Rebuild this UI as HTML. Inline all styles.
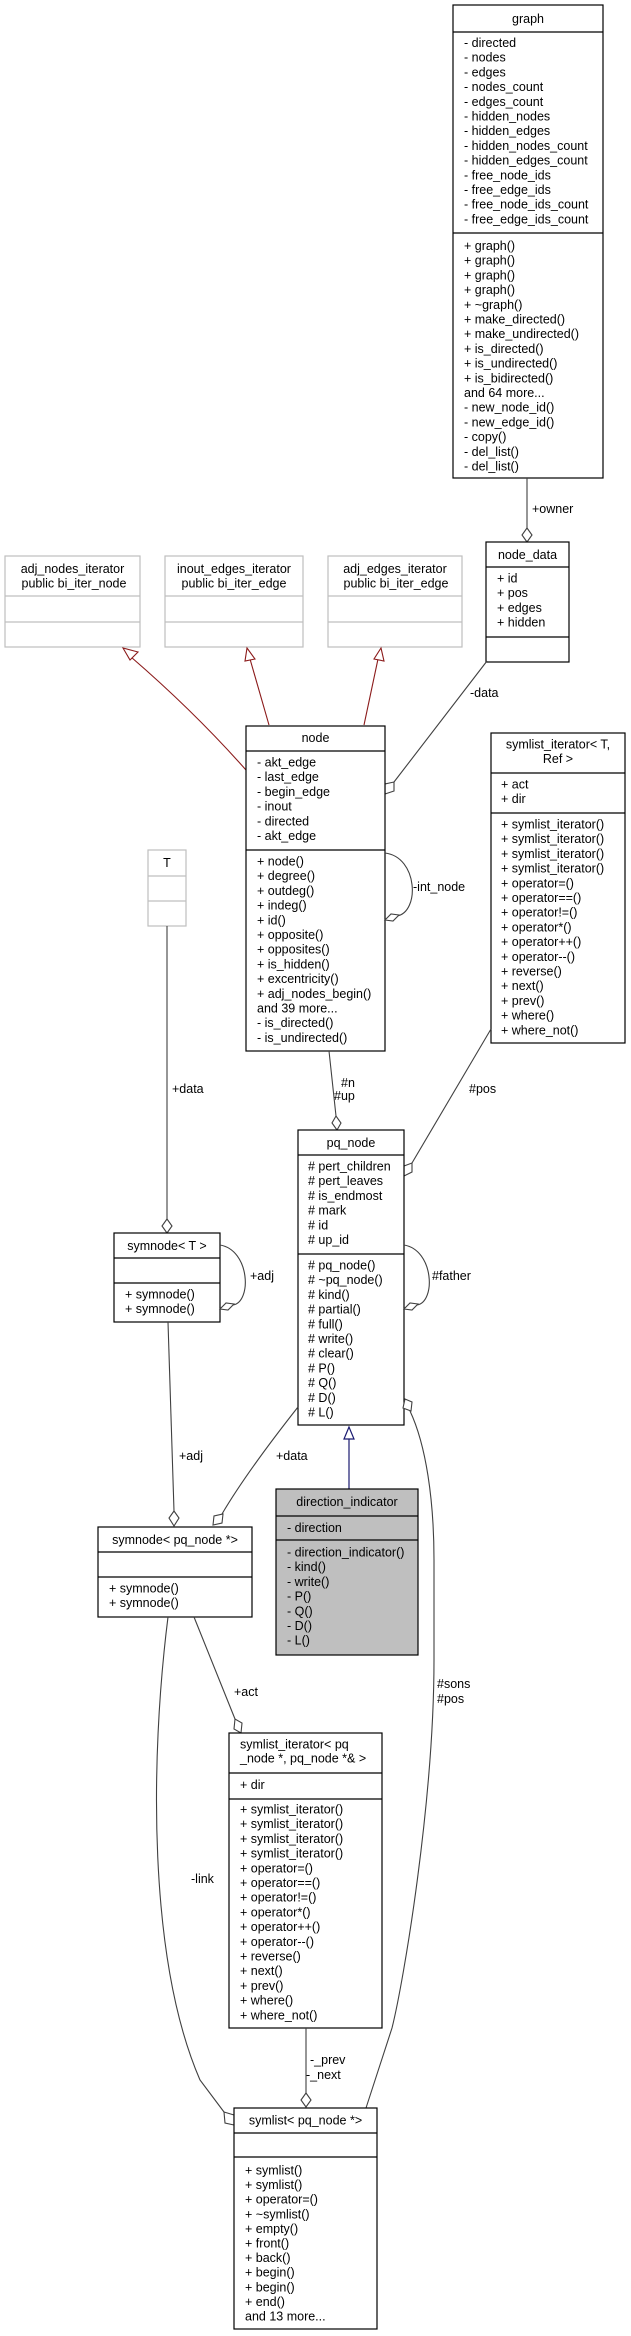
<!DOCTYPE html>
<html><head><meta charset="utf-8"><style>
html,body{margin:0;padding:0;background:#fff}
svg{display:block}
text{font-family:"Liberation Sans",Arial,sans-serif;font-size:12.5px;fill:#000}
.c{text-anchor:middle}
.b{fill:#fff;stroke:#000;stroke-width:1.2}
.g{fill:#fff;stroke:#bfbfbf;stroke-width:1.2}
.d{fill:#bfbfbf;stroke:#000;stroke-width:1.2}
.l{stroke:#000;stroke-width:1.2}
.lg{stroke:#bfbfbf;stroke-width:1.2}
.e{fill:none;stroke:#404040;stroke-width:1.1}
.dm{fill:#fff;stroke:#404040;stroke-width:1.1}
.r{fill:none;stroke:#8b1a1a;stroke-width:1.1}
.rt{fill:#fff;stroke:#8b1a1a;stroke-width:1.1}
</style></head><body>
<svg width="631" height="2336" viewBox="0 0 631 2336" xmlns="http://www.w3.org/2000/svg">

<!-- graph -->
<rect class="b" x="453" y="5" width="150" height="473"/>
<line class="l" x1="453" y1="32" x2="603" y2="32"/>
<line class="l" x1="453" y1="233" x2="603" y2="233"/>
<text class="c" x="528" y="23">graph</text>
<text x="464" y="47">- directed</text>
<text x="464" y="61.7">- nodes</text>
<text x="464" y="76.4">- edges</text>
<text x="464" y="91.1">- nodes_count</text>
<text x="464" y="105.8">- edges_count</text>
<text x="464" y="120.5">- hidden_nodes</text>
<text x="464" y="135.2">- hidden_edges</text>
<text x="464" y="149.9">- hidden_nodes_count</text>
<text x="464" y="164.6">- hidden_edges_count</text>
<text x="464" y="179.3">- free_node_ids</text>
<text x="464" y="194">- free_edge_ids</text>
<text x="464" y="208.7">- free_node_ids_count</text>
<text x="464" y="223.4">- free_edge_ids_count</text>
<text x="464" y="250">+ graph()</text>
<text x="464" y="264.7">+ graph()</text>
<text x="464" y="279.4">+ graph()</text>
<text x="464" y="294.1">+ graph()</text>
<text x="464" y="308.8">+ ~graph()</text>
<text x="464" y="323.5">+ make_directed()</text>
<text x="464" y="338.2">+ make_undirected()</text>
<text x="464" y="352.9">+ is_directed()</text>
<text x="464" y="367.6">+ is_undirected()</text>
<text x="464" y="382.3">+ is_bidirected()</text>
<text x="464" y="397">and 64 more...</text>
<text x="464" y="411.7">- new_node_id()</text>
<text x="464" y="426.4">- new_edge_id()</text>
<text x="464" y="441.1">- copy()</text>
<text x="464" y="455.8">- del_list()</text>
<text x="464" y="470.5">- del_list()</text>

<!-- owner -->
<line class="e" x1="527" y1="478" x2="527" y2="528"/>
<polygon class="dm" points="527,542 522,535 527,528 532,535"/>
<text x="532" y="513">+owner</text>

<!-- node_data -->
<rect class="b" x="486" y="542" width="83" height="120"/>
<line class="l" x1="486" y1="567" x2="569" y2="567"/>
<line class="l" x1="486" y1="637" x2="569" y2="637"/>
<text class="c" x="527.5" y="559">node_data</text>
<text x="497" y="582.5">+ id</text>
<text x="497" y="597.2">+ pos</text>
<text x="497" y="611.9">+ edges</text>
<text x="497" y="626.6">+ hidden</text>

<!-- iterator bases -->
<rect class="g" x="5" y="556" width="135" height="91"/>
<line class="lg" x1="5" y1="596" x2="140" y2="596"/>
<line class="lg" x1="5" y1="622" x2="140" y2="622"/>
<text class="c" x="72.5" y="573">adj_nodes_iterator</text>
<text class="c" x="74" y="587.5">public bi_iter_node</text>

<rect class="g" x="165" y="556" width="138" height="91"/>
<line class="lg" x1="165" y1="596" x2="303" y2="596"/>
<line class="lg" x1="165" y1="622" x2="303" y2="622"/>
<text class="c" x="234" y="573">inout_edges_iterator</text>
<text class="c" x="234" y="587.5">public bi_iter_edge</text>

<rect class="g" x="328" y="556" width="134" height="91"/>
<line class="lg" x1="328" y1="596" x2="462" y2="596"/>
<line class="lg" x1="328" y1="622" x2="462" y2="622"/>
<text class="c" x="395" y="573">adj_edges_iterator</text>
<text class="c" x="396" y="587.5">public bi_iter_edge</text>

<!-- red inheritance -->
<path class="r" d="M131,657 C175,695 215,735 246,770"/>
<polygon class="rt" points="123,648 138,652 130,660"/>
<path class="r" d="M250,659 L269,725"/>
<polygon class="rt" points="247,648 255,659 245,661"/>
<path class="r" d="M378,659 L364,725"/>
<polygon class="rt" points="381,648 384,661 374,659"/>

<!-- node_data -data to node -->
<line class="e" x1="487" y1="661" x2="394" y2="782"/>
<polygon class="dm" points="385,794 385,784 394,782 394,791"/>
<text x="470" y="697">-data</text>

<!-- node -->
<rect class="b" x="246" y="726" width="139" height="325"/>
<line class="l" x1="246" y1="751" x2="385" y2="751"/>
<line class="l" x1="246" y1="850" x2="385" y2="850"/>
<text class="c" x="315.5" y="742">node</text>
<text x="257" y="766.5">- akt_edge</text>
<text x="257" y="781.2">- last_edge</text>
<text x="257" y="795.9">- begin_edge</text>
<text x="257" y="810.6">- inout</text>
<text x="257" y="825.3">- directed</text>
<text x="257" y="840">- akt_edge</text>
<text x="257" y="865.5">+ node()</text>
<text x="257" y="880.2">+ degree()</text>
<text x="257" y="894.9">+ outdeg()</text>
<text x="257" y="909.6">+ indeg()</text>
<text x="257" y="924.3">+ id()</text>
<text x="257" y="939">+ opposite()</text>
<text x="257" y="953.7">+ opposites()</text>
<text x="257" y="968.4">+ is_hidden()</text>
<text x="257" y="983.1">+ excentricity()</text>
<text x="257" y="997.8">+ adj_nodes_begin()</text>
<text x="257" y="1012.5">and 39 more...</text>
<text x="257" y="1027.2">- is_directed()</text>
<text x="257" y="1041.9">- is_undirected()</text>

<!-- int_node loop -->
<path class="e" d="M385,853 C418,857 420,912 397,916"/>
<polygon class="dm" points="385,920 391,914 399,915 393,921"/>
<text x="413" y="891">-int_node</text>

<!-- symlist_iterator<T,Ref> -->
<rect class="b" x="491" y="733" width="134" height="310"/>
<line class="l" x1="491" y1="773" x2="625" y2="773"/>
<line class="l" x1="491" y1="813" x2="625" y2="813"/>
<text class="c" x="558" y="748.5">symlist_iterator&lt; T,</text>
<text class="c" x="558" y="763">Ref &gt;</text>
<text x="501" y="788.5">+ act</text>
<text x="501" y="803">+ dir</text>
<text x="501" y="828.5">+ symlist_iterator()</text>
<text x="501" y="843.2">+ symlist_iterator()</text>
<text x="501" y="857.9">+ symlist_iterator()</text>
<text x="501" y="872.6">+ symlist_iterator()</text>
<text x="501" y="887.3">+ operator=()</text>
<text x="501" y="902">+ operator==()</text>
<text x="501" y="916.7">+ operator!=()</text>
<text x="501" y="931.4">+ operator*()</text>
<text x="501" y="946.1">+ operator++()</text>
<text x="501" y="960.8">+ operator--()</text>
<text x="501" y="975.5">+ reverse()</text>
<text x="501" y="990.2">+ next()</text>
<text x="501" y="1004.9">+ prev()</text>
<text x="501" y="1019.6">+ where()</text>
<text x="501" y="1034.3">+ where_not()</text>

<!-- #pos -->
<line class="e" x1="491" y1="1029" x2="412" y2="1163"/>
<polygon class="dm" points="404,1176 404,1166 412,1163 412,1172"/>
<text x="469" y="1093">#pos</text>

<!-- T -->
<rect class="g" x="148" y="850" width="38" height="76"/>
<line class="lg" x1="148" y1="876" x2="186" y2="876"/>
<line class="lg" x1="148" y1="901" x2="186" y2="901"/>
<text class="c" x="167" y="867">T</text>
<line class="e" x1="167" y1="926" x2="167" y2="1219"/>
<polygon class="dm" points="167,1233 162,1226 167,1219 172,1226"/>
<text x="172" y="1093">+data</text>

<!-- symnode<T> -->
<rect class="b" x="114" y="1233" width="106" height="89"/>
<line class="l" x1="114" y1="1258" x2="220" y2="1258"/>
<line class="l" x1="114" y1="1283" x2="220" y2="1283"/>
<text class="c" x="167" y="1250">symnode&lt; T &gt;</text>
<text x="125" y="1298.5">+ symnode()</text>
<text x="125" y="1313">+ symnode()</text>
<path class="e" d="M220,1245 C250,1250 252,1302 233,1305"/>
<polygon class="dm" points="220,1309 226,1303 234,1304 228,1310"/>
<text x="250" y="1280">+adj</text>

<!-- #n #up -->
<line class="e" x1="329" y1="1051" x2="336" y2="1116"/>
<polygon class="dm" points="337,1130 332,1123 336,1116 341,1123"/>
<text x="341" y="1087">#n</text>
<text x="334" y="1100">#up</text>

<!-- pq_node -->
<rect class="b" x="298" y="1130" width="106" height="295"/>
<line class="l" x1="298" y1="1155" x2="404" y2="1155"/>
<line class="l" x1="298" y1="1254" x2="404" y2="1254"/>
<text class="c" x="351" y="1147">pq_node</text>
<text x="308" y="1170.5"># pert_children</text>
<text x="308" y="1185.2"># pert_leaves</text>
<text x="308" y="1199.9"># is_endmost</text>
<text x="308" y="1214.6"># mark</text>
<text x="308" y="1229.3"># id</text>
<text x="308" y="1244"># up_id</text>
<text x="308" y="1269.5"># pq_node()</text>
<text x="308" y="1284.2"># ~pq_node()</text>
<text x="308" y="1298.9"># kind()</text>
<text x="308" y="1313.6"># partial()</text>
<text x="308" y="1328.3"># full()</text>
<text x="308" y="1343"># write()</text>
<text x="308" y="1357.7"># clear()</text>
<text x="308" y="1372.4"># P()</text>
<text x="308" y="1387.1"># Q()</text>
<text x="308" y="1401.8"># D()</text>
<text x="308" y="1416.5"># L()</text>

<!-- #father -->
<path class="e" d="M404,1245 C434,1250 436,1302 417,1305"/>
<polygon class="dm" points="404,1309 410,1303 418,1304 412,1310"/>
<text x="432" y="1280">#father</text>

<!-- inheritance blue -->
<line x1="349" y1="1439" x2="349" y2="1489" stroke="#191970" stroke-width="1.2"/>
<polygon points="349,1427 344,1439 354,1439" fill="#fff" stroke="#191970" stroke-width="1.2"/>

<!-- direction_indicator -->
<rect class="d" x="276" y="1489" width="142" height="166"/>
<line class="l" x1="276" y1="1516" x2="418" y2="1516"/>
<line class="l" x1="276" y1="1540" x2="418" y2="1540"/>
<text class="c" x="347" y="1506">direction_indicator</text>
<text x="287" y="1532">- direction</text>
<text x="287" y="1556.5">- direction_indicator()</text>
<text x="287" y="1571.2">- kind()</text>
<text x="287" y="1585.9">- write()</text>
<text x="287" y="1600.6">- P()</text>
<text x="287" y="1615.3">- Q()</text>
<text x="287" y="1630">- D()</text>
<text x="287" y="1644.7">- L()</text>

<!-- +data pq_node -> symnode<pq> -->
<path class="e" d="M298,1407 C272,1440 242,1480 222,1514"/>
<polygon class="dm" points="213,1525 214,1516 223,1514 222,1523"/>
<text x="276" y="1460">+data</text>

<!-- +adj symnode<T> -> symnode<pq> -->
<line class="e" x1="168" y1="1322" x2="174" y2="1511"/>
<polygon class="dm" points="174,1526 169,1518 174,1511 179,1518"/>
<text x="179" y="1460">+adj</text>

<!-- #sons #pos -->
<path class="e" d="M410,1411 C426,1445 434,1500 434,1560 L434,1660 C434,1800 404,1980 392,2028 L366,2108"/>
<polygon class="dm" points="405,1399 412,1402 411,1411 403,1408"/>
<text x="437" y="1688">#sons</text>
<text x="437" y="1703">#pos</text>

<!-- symnode<pq_node*> -->
<rect class="b" x="98" y="1527" width="154" height="90"/>
<line class="l" x1="98" y1="1552" x2="252" y2="1552"/>
<line class="l" x1="98" y1="1577" x2="252" y2="1577"/>
<text class="c" x="175" y="1544">symnode&lt; pq_node *&gt;</text>
<text x="109" y="1592.5">+ symnode()</text>
<text x="109" y="1607">+ symnode()</text>

<!-- +act -->
<line class="e" x1="194" y1="1617" x2="235" y2="1719"/>
<polygon class="dm" points="241,1733 234,1729 235,1719 242,1723"/>
<text x="234" y="1696">+act</text>

<!-- -link -->
<path class="e" d="M168,1617 C150,1760 148,1960 200,2080 L224,2112"/>
<polygon class="dm" points="234,2125 225,2123 224,2112 234,2115"/>
<text x="191" y="1883">-link</text>

<!-- symlist_iterator<pq> -->
<rect class="b" x="229" y="1733" width="153" height="295"/>
<line class="l" x1="229" y1="1773" x2="382" y2="1773"/>
<line class="l" x1="229" y1="1799" x2="382" y2="1799"/>
<text x="240" y="1748.5">symlist_iterator&lt; pq</text>
<text x="240" y="1762.5">_node *, pq_node *&amp; &gt;</text>
<text x="240" y="1789">+ dir</text>
<text x="240" y="1813.5">+ symlist_iterator()</text>
<text x="240" y="1828.2">+ symlist_iterator()</text>
<text x="240" y="1842.9">+ symlist_iterator()</text>
<text x="240" y="1857.6">+ symlist_iterator()</text>
<text x="240" y="1872.3">+ operator=()</text>
<text x="240" y="1887">+ operator==()</text>
<text x="240" y="1901.7">+ operator!=()</text>
<text x="240" y="1916.4">+ operator*()</text>
<text x="240" y="1931.1">+ operator++()</text>
<text x="240" y="1945.8">+ operator--()</text>
<text x="240" y="1960.5">+ reverse()</text>
<text x="240" y="1975.2">+ next()</text>
<text x="240" y="1989.9">+ prev()</text>
<text x="240" y="2004.6">+ where()</text>
<text x="240" y="2019.3">+ where_not()</text>

<!-- _prev _next -->
<line class="e" x1="306" y1="2028" x2="306" y2="2093"/>
<polygon class="dm" points="306,2107 301,2100 306,2093 311,2100"/>
<text x="310" y="2064">-_prev</text>
<text x="306" y="2079">-_next</text>

<!-- symlist<pq_node*> -->
<rect class="b" x="234" y="2108" width="143" height="221"/>
<line class="l" x1="234" y1="2133" x2="377" y2="2133"/>
<line class="l" x1="234" y1="2157" x2="377" y2="2157"/>
<text class="c" x="305.5" y="2124.5">symlist&lt; pq_node *&gt;</text>
<text x="245" y="2174.5">+ symlist()</text>
<text x="245" y="2189.1">+ symlist()</text>
<text x="245" y="2203.7">+ operator=()</text>
<text x="245" y="2218.3">+ ~symlist()</text>
<text x="245" y="2232.9">+ empty()</text>
<text x="245" y="2247.5">+ front()</text>
<text x="245" y="2262.1">+ back()</text>
<text x="245" y="2276.7">+ begin()</text>
<text x="245" y="2291.3">+ begin()</text>
<text x="245" y="2305.9">+ end()</text>
<text x="245" y="2320.5">and 13 more...</text>

</svg>
</body></html>
